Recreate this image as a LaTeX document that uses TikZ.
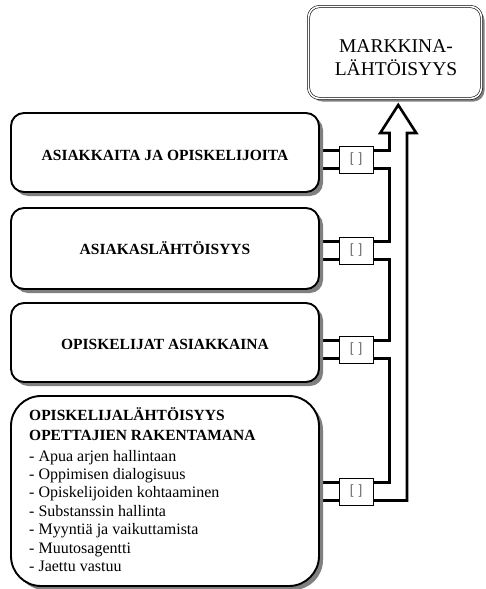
\documentclass[tikz,border=0pt]{standalone}
\usepackage{fontspec}
\setmainfont{Liberation Serif}
\newfontfamily\bracketfont{Liberation Sans}
\usetikzlibrary{shadows,calc,backgrounds}

\begin{document}
\begin{tikzpicture}[x=1pt,y=-1pt,
  panel/.style={draw, line width=1.9pt, fill=white, inner sep=0pt,
    minimum width=308pt, rounded corners=13pt,
    drop shadow={shadow xshift=4pt, shadow yshift=-4pt, fill=black!50, opacity=1}},
  market/.style={draw, double, line width=0.6pt, double distance=1.6pt, fill=white,
    inner sep=0pt, minimum width=173pt, minimum height=92pt, rounded corners=11pt,
    drop shadow={shadow xshift=3pt, shadow yshift=-3pt, fill=black!50, opacity=1}},
  tag/.style={draw, line width=0.7pt, fill=white, inner sep=0pt,
    minimum width=34pt, minimum height=27pt,
    font=\bracketfont\fontsize{13.5}{14}\selectfont, text=black!60,
    drop shadow={shadow xshift=1.2pt, shadow yshift=-1.2pt, fill=black!45, opacity=1}},
  head/.style={anchor=base, inner sep=0pt, font=\fontsize{15.5}{18}\selectfont\bfseries},
  lhead/.style={anchor=base west, inner sep=0pt, font=\fontsize{15.5}{18}\selectfont\bfseries},
  item/.style={anchor=base west, inner sep=0pt, font=\fontsize{16}{18}\selectfont},
  mtext/.style={anchor=base, inner sep=0pt, font=\fontsize{19.5}{22}\selectfont},
  wire/.style={line width=2.6pt, line join=miter}]

\useasboundingbox (0,0) rectangle (485,589);

% target box
\node[market] (m) at (395,52.5) {};
\node[mtext] (m1) at (396,52) {MARKKINA-};
\node[mtext] (m2) at (396,75) {LÄHTÖISYYS};

% four panels
\node[panel, minimum height=79pt] (b1) at (165,152.5) {};
\node[panel, minimum height=81pt] (b2) at (165,248.5) {};
\node[panel, minimum height=79pt] (b3) at (165,342.5) {};
\node[panel, minimum height=190pt, rounded corners=30pt] (b4) at (165,491) {};

\node[head] (t1) at (165,160) {ASIAKKAITA JA OPISKELIJOITA};
\node[head] (t2) at (165,254) {ASIAKASLÄHTÖISYYS};
\node[head] (t3) at (165,349) {OPISKELIJAT ASIAKKAINA};

\node[lhead] (h1) at (29,420) {OPISKELIJALÄHTÖISYYS};
\node[lhead] (h2) at (29,440) {OPETTAJIEN RAKENTAMANA};
\foreach \txt [count=\i] in {Apua arjen hallintaan, Oppimisen dialogisuus,
    Opiskelijoiden kohtaaminen, Substanssin hallinta, Myyntiä ja vaikuttamista,
    Muutosagentti, Jaettu vastuu}
  \node[item] (i\i) at (29,{461+18.4*(\i-1)}) {- \txt};

% small tags beside the panels
\node[tag] (s1) at (356,159.5) {[\hspace{5pt}]};
\node[tag] (s2) at (356,250.5) {[\hspace{5pt}]};
\node[tag] (s3) at (356,349.5) {[\hspace{5pt}]};
\node[tag] (s4) at (356,491.5) {[\hspace{5pt}]};

\foreach \k in {1,2,3,4} {
  \coordinate (s\k u) at ($(s\k.center)+(0,-9)$);
  \coordinate (s\k d) at ($(s\k.center)+(0,9)$);
}
\coordinate (jx) at (389.5,0);
\coordinate (ax) at (407,0);
\coordinate (hb) at (398.25,133);
\coordinate (tip) at (398.25,105);

\begin{scope}[on background layer]
  % leads from panels to tags
  \draw[wire] (b1.east |- s1u) -- (s1.west |- s1u);
  \draw[wire] (b1.east |- s1d) -- (s1.west |- s1d);
  \draw[wire] (b2.east |- s2u) -- (s2.west |- s2u);
  \draw[wire] (b2.east |- s2d) -- (s2.west |- s2d);
  \draw[wire] (b3.east |- s3u) -- (s3.west |- s3u);
  \draw[wire] (b3.east |- s3d) -- (s3.west |- s3d);
  \draw[wire] (b4.east |- s4u) -- (s4.west |- s4u);
  \draw[wire] (b4.east |- s4d) -- (s4.west |- s4d);
  % chain between neighbouring tags
  \draw[wire] (s1.east |- s1d) -- (jx |- s1d) -- (jx |- s2u) -- (s2.east |- s2u);
  \draw[wire] (s2.east |- s2d) -- (jx |- s2d) -- (jx |- s3u) -- (s3.east |- s3u);
  \draw[wire] (s3.east |- s3d) -- (jx |- s3d) -- (jx |- s4u) -- (s4.east |- s4u);
  % hollow arrow up to the target box
  \draw[wire] (s1.east |- s1u) -- (jx |- s1u) -- (jx |- hb)
    -- ($(hb)+(-18,0)$) -- (tip) -- ($(hb)+(18,0)$) -- (ax |- hb)
    -- (ax |- s4d) -- (s4.east |- s4d);
\end{scope}
\end{tikzpicture}
\end{document}
